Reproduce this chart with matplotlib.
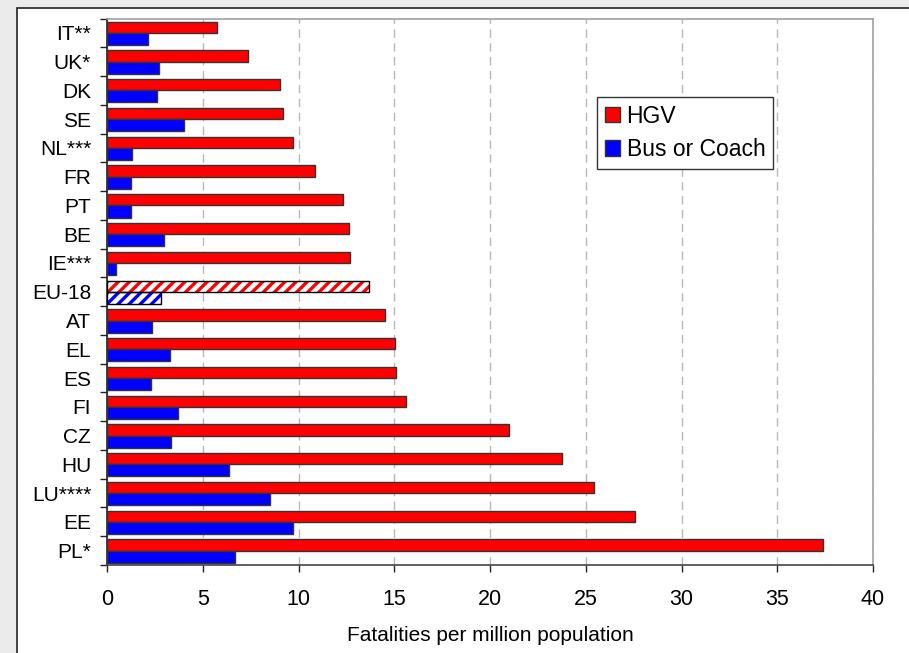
import matplotlib
matplotlib.use("Agg")
import matplotlib.pyplot as plt
import matplotlib.patches as mpatches
import numpy as np

plt.rcParams['font.family'] = ['Liberation Sans', 'DejaVu Sans']
plt.rcParams['hatch.linewidth'] = 2.4

countries = ["IT**", "UK*", "DK", "SE", "NL***", "FR", "PT", "BE", "IE***", "EU-18",
             "AT", "EL", "ES", "FI", "CZ", "HU", "LU****", "EE", "PL*"]
hgv = [5.74, 7.35, 9.02, 9.19, 9.70, 10.86, 12.31, 12.65, 12.71, 13.68,
       14.50, 15.02, 15.07, 15.60, 20.97, 23.78, 25.45, 27.59, 37.37]
bus = [2.16, 2.73, 2.63, 4.00, 1.31, 1.25, 1.25, 2.96, 0.49, 2.80,
       2.33, 3.27, 2.30, 3.69, 3.32, 6.39, 8.51, 9.70, 6.67]
hatched = "EU-18"
xticks = [0, 5, 10, 15, 20, 25, 30, 35, 40]
xlabel = "Fatalities per million population"
legend_labels = ["HGV", "Bus or Coach"]

W, H = 909, 653
fig = plt.figure(figsize=(W / 100, H / 100), dpi=100)
fig.patch.set_facecolor("#ebebeb")
panel = mpatches.Rectangle((17 / W, -0.1), 1.2, (H - 8) / H + 0.1, transform=fig.transFigure,
                           facecolor="white", edgecolor="#222222", linewidth=1.2, zorder=0)
fig.add_artist(panel)

ax = fig.add_axes([107 / W, (H - 565) / H, (873 - 107) / W, (565 - 18.5) / H])
ax.set_facecolor("white")
ax.set_zorder(1)

y = np.arange(len(countries))
red, blue = "#ff0000", "#0000ff"
edge = "#333333"
for i, c in enumerate(countries):
    if c == hatched:
        ax.barh(i - 0.195, hgv[i], height=0.39, color="white", edgecolor=red,
                hatch="///", linewidth=0, zorder=3)
        ax.barh(i - 0.195, hgv[i], height=0.39, fill=False, edgecolor="black",
                linewidth=1, zorder=4)
        ax.barh(i + 0.21, bus[i], height=0.42, color="white", edgecolor=blue,
                hatch="///", linewidth=0, zorder=3)
        ax.barh(i + 0.21, bus[i], height=0.42, fill=False, edgecolor="black",
                linewidth=1, zorder=4)
    else:
        ax.barh(i - 0.195, hgv[i], height=0.39, color=red, edgecolor=edge,
                linewidth=1, zorder=3)
        ax.barh(i + 0.21, bus[i], height=0.42, color=blue, edgecolor=edge,
                linewidth=1, zorder=3)

ax.set_xlim(0, 40)
ax.set_ylim(len(countries) - 0.5, -0.5)
ax.set_xticks(xticks)
ax.set_xticklabels([str(t) for t in xticks], fontsize=15.5)
ax.set_yticks(y)
ax.set_yticklabels(countries, fontsize=15)
ax.set_yticks(np.arange(len(countries) + 1) - 0.5, minor=True)
ax.tick_params(axis="y", which="major", length=0, pad=11.5)
ax.tick_params(axis="y", which="minor", length=5, width=1, color="#222222", direction="out")
ax.tick_params(axis="x", which="major", length=5, width=1, color="#222222", direction="out", pad=12)

ax.set_xlabel(xlabel, fontsize=15, labelpad=12)

ax.xaxis.grid(True, linestyle=(0, (6, 4)), color="#b8b8b8", linewidth=1)
ax.set_axisbelow(True)

for s in ["top", "right"]:
    ax.spines[s].set_color("#a0a0a0")
    ax.spines[s].set_linewidth(1.2)
ax.spines["left"].set_color("#222222")
ax.spines["bottom"].set_color("#444444")
ax.spines["left"].set_linewidth(1.2)
ax.spines["bottom"].set_linewidth(1.2)

handles = [mpatches.Patch(facecolor=red, edgecolor=edge, linewidth=1),
           mpatches.Patch(facecolor=blue, edgecolor=edge, linewidth=1)]
leg = ax.legend(handles, legend_labels, loc="upper left", bbox_to_anchor=(0.64, 0.856),
                fontsize=16.5, frameon=True, fancybox=False, framealpha=1,
                edgecolor="#333333", handlelength=0.65, handleheight=0.65,
                handletextpad=0.3, borderpad=0.33, labelspacing=0.45, borderaxespad=0)
leg.get_frame().set_linewidth(1)
leg.set_zorder(5)

fig.savefig("out.png", dpi=100, facecolor=fig.get_facecolor())
